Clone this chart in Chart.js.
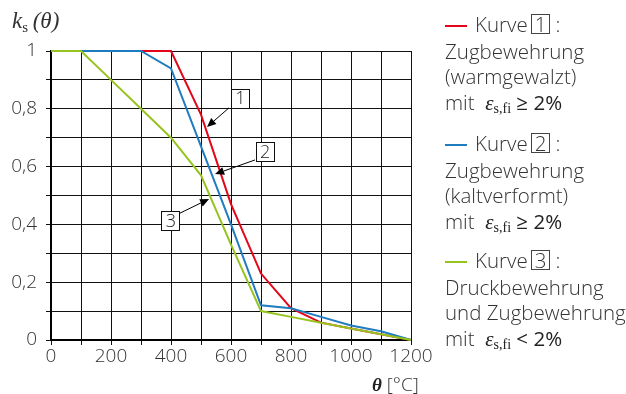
<!DOCTYPE html>
<html>
<head>
<meta charset="utf-8">
<script src="https://cdn.jsdelivr.net/npm/chart.js@4.4.1/dist/chart.umd.min.js"></script>
<style>
  html, body { margin: 0; padding: 0; background: #fff; }
  #wrap { position: relative; width: 626px; height: 394px; overflow: hidden;
          font-family: 'Open Sans', 'Noto Sans', sans-serif; font-weight: 300; color: #333; }
  #chart { position: absolute; left: 0; top: 0; }
  .abs { position: absolute; white-space: nowrap; }
  .serif { font-family: 'Liberation Serif', 'DejaVu Serif', serif; }
  .ytitle { left: 12px; top: 7px; font-size: 23px; line-height: 28px; }
  .ytitle sub { font-size: 15px; vertical-align: -4px; font-style: normal; }
  .xtitle { left: 372px; top: 371px; font-size: 19px; line-height: 26px; }
  .leg { left: 445px; font-size: 20.5px; line-height: 26px; }
  .sw { display: inline-block; width: 22px; height: 2px; vertical-align: middle; margin-right: 8px; position: relative; top: -1px; }
  .nbox { display: inline-block; border: 1px solid #444; line-height: 18px; padding: 0 3px; margin-left: 3px; margin-right: 5px; }
  .eps { font-style: italic; font-size: 21px; font-weight: 400; color: #222; }
  .eps sub { font-style: normal; font-size: 14px; vertical-align: -3px; }
  .rel { font-weight: 400; color: #222; }
</style>
</head>
<body>
<div id="wrap">
  <canvas id="chart" width="626" height="394"></canvas>
  <div class="abs ytitle serif"><i>k</i><sub>s</sub>&#8201;<i>(θ)</i></div>
  <div class="abs xtitle"><i class="serif" style="font-weight:700;color:#222">θ</i> [°C]</div>
  <div id="legend"></div>
</div>
<script>
// Temperature steps (°C) and the reduction factor k_s(θ) for each curve
const temperatures = [0, 100, 200, 300, 400, 500, 600, 700, 800, 900, 1000, 1100, 1200];
const kurve1 = [1, 1, 1, 1, 1, 0.78, 0.47, 0.23, 0.11, 0.06, 0.04, 0.02, 0];
const kurve2 = [1, 1, 1, 1, 0.94, 0.67, 0.40, 0.12, 0.11, 0.08, 0.05, 0.03, 0];
const kurve3 = [1, 1, 0.9, 0.8, 0.7, 0.57, 0.33, 0.10, 0.08, 0.06, 0.04, 0.02, 0];

const curveNumbers = ['1', '2', '3'];
const curveColors = ['#e30618', '#1f7cc1', '#97c31e'];
const curveLines = [
  ['Zugbewehrung', '(warmgewalzt)'],
  ['Zugbewehrung', '(kaltverformt)'],
  ['Druckbewehrung', 'und Zugbewehrung']
];
const strainRelation = ['≥', '≥', '<'];

const xTicksShown = [0, 200, 400, 600, 800, 1000, 1200];
const yTicksShown = [0, 0.2, 0.4, 0.6, 0.8, 1];

// Numbered callouts pointing at the curves (data coordinates)
const callouts = [
  { n: '1', box: [630, 0.837], tail: [593, 0.803], tip: [520, 0.737] },
  { n: '2', box: [712, 0.652], tail: [680, 0.623], tip: [547, 0.574] },
  { n: '3', box: [398, 0.412], tail: [430, 0.439], tip: [527, 0.488] }
];

// Legend on the right
const legendTops = [11, 130, 247];
const legend = document.getElementById('legend');
curveNumbers.forEach((num, i) => {
  const rows = [];
  rows.push('<span class="sw" style="background:' + curveColors[i] + '"></span>Kurve<span class="nbox">' + num + '</span>:');
  curveLines[i].forEach(t => rows.push(t));
  rows.push('mit&nbsp; <span class="eps serif">ε<sub>s,fi</sub></span> <span class="rel">' + strainRelation[i] + ' 2%</span>');
  rows.forEach((html, r) => {
    const d = document.createElement('div');
    d.className = 'abs leg';
    d.style.top = (legendTops[i] + r * 25.5 + (r > 0 ? 1 : 0)) + 'px';
    d.innerHTML = html;
    legend.appendChild(d);
  });
});

const calloutPlugin = {
  id: 'callouts',
  afterDatasetsDraw(chart) {
    const { ctx, scales: { x, y } } = chart;
    ctx.save();
    callouts.forEach(c => {
      const tx = x.getPixelForValue(c.tail[0]), ty = y.getPixelForValue(c.tail[1]);
      const px = x.getPixelForValue(c.tip[0]), py = y.getPixelForValue(c.tip[1]);
      const ang = Math.atan2(py - ty, px - tx);
      const head = 9, half = 4;
      const bx = px - head * Math.cos(ang), by = py - head * Math.sin(ang);
      ctx.strokeStyle = '#000';
      ctx.fillStyle = '#000';
      ctx.lineWidth = 1;
      ctx.beginPath();
      ctx.moveTo(tx, ty);
      ctx.lineTo(bx, by);
      ctx.stroke();
      ctx.beginPath();
      ctx.moveTo(px, py);
      ctx.lineTo(bx + half * Math.sin(ang), by - half * Math.cos(ang));
      ctx.lineTo(bx - half * Math.sin(ang), by + half * Math.cos(ang));
      ctx.closePath();
      ctx.fill();
      const cx = x.getPixelForValue(c.box[0]), cy = y.getPixelForValue(c.box[1]);
      const w = 18, h = 19;
      ctx.fillStyle = '#fff';
      ctx.fillRect(Math.round(cx - w / 2) + 0.5, Math.round(cy - h / 2) + 0.5, w, h);
      ctx.strokeStyle = '#111';
      ctx.strokeRect(Math.round(cx - w / 2) + 0.5, Math.round(cy - h / 2) + 0.5, w, h);
      ctx.fillStyle = '#222';
      ctx.font = '300 18px "Open Sans"';
      ctx.textAlign = 'center';
      ctx.textBaseline = 'middle';
      ctx.fillText(c.n, cx + 0.5, cy + 1);
    });
    ctx.restore();
  }
};

const mkSet = (data, i, order) => ({
  label: 'Kurve ' + curveNumbers[i],
  data: temperatures.map((t, k) => ({ x: t, y: data[k] })),
  borderColor: curveColors[i],
  backgroundColor: curveColors[i],
  borderWidth: 2,
  pointRadius: 0,
  tension: 0,
  clip: false,
  order: order
});

new Chart(document.getElementById('chart'), {
  type: 'line',
  data: {
    datasets: [mkSet(kurve1, 0, 2), mkSet(kurve2, 1, 1), mkSet(kurve3, 2, 0)]
  },
  options: {
    responsive: false,
    animation: false,
    layout: { padding: { top: 51, right: 215, left: 0, bottom: 0 } },
    plugins: { legend: { display: false }, tooltip: { enabled: false } },
    scales: {
      x: {
        type: 'linear', min: 0, max: 1200,
        afterFit: s => { s.height = 54; },
        ticks: {
          stepSize: 100, autoSkip: false, maxRotation: 0, padding: 0,
          color: '#333', font: { family: 'Open Sans', size: 19, weight: 300 },
          callback: v => (xTicksShown.includes(v) ? String(v) : '')
        },
        grid: { color: '#111', lineWidth: 1, tickLength: 5, drawTicks: true },
        border: { color: '#000', width: 2 }
      },
      y: {
        type: 'linear', min: 0, max: 1,
        afterFit: s => { s.width = 51; },
        ticks: {
          stepSize: 0.1, autoSkip: false, padding: 9,
          color: '#333', font: { family: 'Open Sans', size: 19, weight: 300 },
          callback: v => {
            const r = Math.round(v * 10) / 10;
            if (!yTicksShown.some(t => Math.abs(t - r) < 1e-9)) return '';
            return r === 0 || r === 1 ? String(r) : r.toFixed(1).replace('.', ',');
          }
        },
        grid: { color: '#111', lineWidth: 1, tickLength: 5, drawTicks: true },
        border: { color: '#000', width: 2 }
      }
    }
  },
  plugins: [calloutPlugin]
});
</script>
</body>
</html>
